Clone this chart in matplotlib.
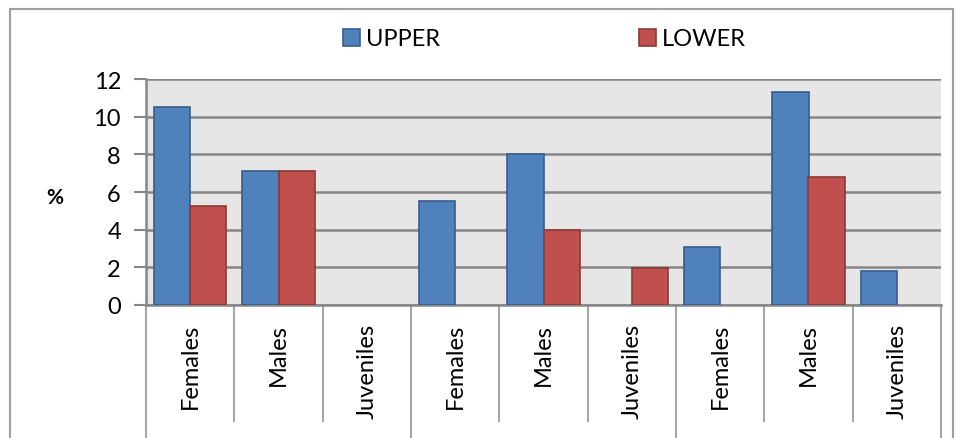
import matplotlib
matplotlib.use("Agg")
import matplotlib.pyplot as plt
from matplotlib.patches import Rectangle
import numpy as np

plt.rcParams['font.family'] = ['Lato', 'DejaVu Sans']

categories = ["Females", "Males", "Juveniles", "Females", "Males", "Juveniles",
              "Females", "Males", "Juveniles"]
upper = [10.5, 7.13, 0, 5.54, 8.0, 0, 3.1, 11.33, 1.79]
lower = [5.27, 7.13, 0, 0, 4.0, 1.95, 0, 6.78, 0]
series_names = ["UPPER", "LOWER"]
yticks = [0, 2, 4, 6, 8, 10, 12]
group_size = 3

W, H = 956, 439
fig = plt.figure(figsize=(W / 100, H / 100), dpi=100)
L, T, R, B = 146, 80, 941, 306
ax = fig.add_axes([L / W, (H - B) / H, (R - L) / W, (B - T) / H])
ax.set_facecolor('#E6E6E6')

FS = 17
x = np.arange(len(categories))
bw = 0.41
b1 = ax.bar(x - bw / 2, upper, bw, color='#4F81BD', edgecolor='#385D8A', linewidth=1.2, zorder=3)
b2 = ax.bar(x + bw / 2, lower, bw, color='#C0504D', edgecolor='#8C3836', linewidth=1.2, zorder=3)
for bars, vals in ((b1, upper), (b2, lower)):
    for p, v in zip(bars, vals):
        if v == 0:
            p.set_visible(False)

ax.set_xlim(-0.5, len(categories) - 0.5)
ax.set_ylim(0, 12)
ax.set_yticks(yticks)
ax.set_yticklabels([str(v) for v in yticks], fontsize=FS)
ax.yaxis.grid(True, color='#868686', linewidth=1.8, zorder=1)
ax.set_axisbelow(True)
ax.tick_params(axis='y', length=9, width=1.5, color='#868686', pad=9)
ax.set_xticks([])
for s in ['top', 'right']:
    ax.spines[s].set_visible(False)
for s in ['left', 'bottom']:
    ax.spines[s].set_color('#868686')
    ax.spines[s].set_linewidth(1.8)

trans = ax.get_xaxis_transform()
for i, c in enumerate(categories):
    ax.text(i, -0.08, c, rotation=90, ha='center', va='top', fontsize=FS,
            transform=trans, clip_on=False)
for k in range(len(categories) + 1):
    xs = k - 0.5
    y0 = -0.6 if k % group_size == 0 else -0.513
    ax.plot([xs, xs], [0, y0], color='#A6A6A6', linewidth=1.5, transform=trans, clip_on=False)

ax.text(-0.115, 0.48, '%', transform=ax.transAxes, fontsize=FS - 2, fontweight='bold',
        ha='center', va='center')

leg = fig.legend([b1, b2], series_names, loc='center left',
                 bbox_to_anchor=(322 / W, 1 - 40 / H), ncol=2, frameon=False,
                 fontsize=FS, handlelength=0.72, handleheight=0.72, handletextpad=0.25,
                 columnspacing=8.4)

fig.add_artist(Rectangle((10 / W, -0.1), (953 - 10) / W, 1.1 - 10 / H,
                         transform=fig.transFigure, fill=False,
                         edgecolor='#A0A0A0', linewidth=1.5))

fig.savefig('out.png', dpi=100)
